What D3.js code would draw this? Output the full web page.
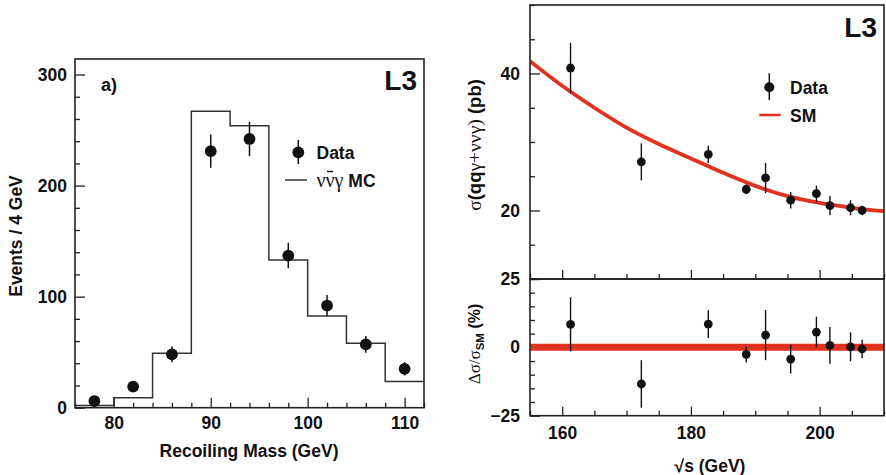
<!DOCTYPE html>
<html><head><meta charset="utf-8">
<script src="https://cdn.jsdelivr.net/npm/d3@7"></script>
<style>
body{margin:0;background:#fff}
svg{display:block}
text{font-family:"Liberation Sans",Arial,Helvetica,sans-serif;fill:#111}
</style>
</head><body>
<svg id="c" width="886" height="475"></svg>
<script>
// Panel a): recoiling-mass distribution
const massBinEdges = [76, 80, 84, 88, 92, 96, 100, 104, 108, 112];
const mcEvents = [2, 9, 49, 267, 254, 133, 82.5, 58, 23.5];
const massPoints = [78, 82, 86, 90, 94, 98, 102, 106, 110];
const dataEvents = [6, 19, 48, 231, 242, 137, 92, 57, 35];
const dataEventErr = [2.5, 4.4, 7, 15, 15.5, 11.5, 9.5, 7.5, 6];
const massTicks = [80, 90, 100, 110];
const eventTicks = [0, 100, 200, 300];

// Panel b): cross section versus centre-of-mass energy
const sqrtS = [161.3, 172.3, 182.7, 188.6, 191.6, 195.5, 199.5, 201.6, 204.8, 206.6];
const sigma = [40.8, 27.1, 28.2, 23.1, 24.75, 21.5, 22.45, 20.7, 20.4, 20.0];
const sigmaErr = [3.7, 2.7, 1.25, 0.7, 2.2, 1.2, 1.2, 1.4, 1.1, 0.7];
const smSqrtS = [155, 160, 165, 170, 175, 180, 185, 190, 195, 200, 205, 210];
const smSigma = [41.8, 38.2, 35.0, 32.1, 29.7, 27.6, 25.5, 23.6, 22.1, 21.1, 20.4, 19.9];
const deviation = [8.4, -13.4, 8.5, -2.6, 4.5, -4.3, 5.6, 0.7, 0.2, -0.6];
const deviationErr = [9.9, 8.7, 5.1, 2.9, 9.2, 5.3, 5.6, 6.7, 5.3, 3.4];
const energyTicks = [160, 180, 200];
const sigmaTicks = [20, 40];
const deviationTicks = [-25, 0, 25];

const RED = "#e1311f";
const INK = "#111";
const FRAME = "#222";
const SANS = '"Liberation Sans",Arial,Helvetica,sans-serif';
const SERIF = '"Liberation Serif","Times New Roman",serif';

const svg = d3.select("#c");

// draws major + minor inward ticks with labels on the majors
function axisWithMinor(parent, axisFn, scale, major, minor, opts) {
  const g = parent.append("g").attr("transform", opts.transform);
  const minorVals = minor.filter(v => !major.includes(v));
  g.append("g")
    .call(axisFn(scale).tickValues(minorVals).tickSize(-opts.minorLen).tickFormat(""))
    .call(s => s.select(".domain").remove());
  const maj = g.append("g")
    .call(axisFn(scale).tickValues(major).tickSize(-opts.majorLen).tickPadding(opts.pad)
      .tickFormat(opts.format || d3.format("d")))
    .call(s => s.select(".domain").remove());
  if (opts.noLabels) maj.selectAll("text").remove();
  g.selectAll("g").attr("font-family", SANS).attr("font-size", opts.fontSize || 17.5)
    .attr("font-weight", "bold");
  g.selectAll("line").attr("stroke", FRAME).attr("stroke-width", 1.3);
  g.selectAll("text").attr("fill", INK);
  return g;
}

/* ---------------- Panel a ---------------- */
const A = { left: 75, right: 424, top: 59, bottom: 407.7 };
const xA = d3.scaleLinear().domain([76, 112]).range([A.left, A.right]);
const yA = d3.scaleLinear().domain([0, 314]).range([A.bottom, A.top]);

axisWithMinor(svg, d3.axisLeft, yA, eventTicks, d3.range(0, 314, 20),
  { transform: `translate(${A.left},0)`, majorLen: 10, minorLen: 5, pad: 8 });
axisWithMinor(svg, d3.axisBottom, xA, massTicks, d3.range(76, 113, 2),
  { transform: `translate(0,${A.bottom})`, majorLen: 10, minorLen: 5, pad: 9 });

// Monte Carlo histogram as a step line
const mcSteps = massBinEdges.map((e, i) => [e, i < mcEvents.length ? mcEvents[i] : mcEvents[mcEvents.length - 1]]);
svg.append("path")
  .attr("d", d3.line().x(d => xA(d[0])).y(d => yA(d[1])).curve(d3.curveStepAfter)(mcSteps))
  .attr("fill", "none").attr("stroke", "#333").attr("stroke-width", 1.5);

// data points with error bars
const gA = svg.append("g");
massPoints.forEach((m, i) => {
  gA.append("line").attr("x1", xA(m)).attr("x2", xA(m))
    .attr("y1", yA(dataEvents[i] - dataEventErr[i])).attr("y2", yA(dataEvents[i] + dataEventErr[i]))
    .attr("stroke", INK).attr("stroke-width", 1.5);
  gA.append("circle").attr("cx", xA(m)).attr("cy", yA(dataEvents[i])).attr("r", 5.9).attr("fill", INK);
});

svg.append("rect").attr("x", A.left).attr("y", A.top).attr("width", A.right - A.left)
  .attr("height", A.bottom - A.top).attr("fill", "none").attr("stroke", FRAME).attr("stroke-width", 1.6);

svg.append("text").attr("x", 101).attr("y", 91).attr("font-size", 18).attr("font-weight", "bold").text("a)");
svg.append("text").attr("x", 417).attr("y", 89.5).attr("text-anchor", "end")
  .attr("font-size", 28).attr("font-weight", "bold").text("L3");

// legend
svg.append("line").attr("x1", 298.3).attr("x2", 298.3).attr("y1", 140).attr("y2", 164)
  .attr("stroke", INK).attr("stroke-width", 1.5);
svg.append("circle").attr("cx", 298.3).attr("cy", 152.3).attr("r", 5.9).attr("fill", INK);
svg.append("text").attr("x", 316.5).attr("y", 159.3).attr("font-size", 17.5).attr("font-weight", "bold").text("Data");
svg.append("line").attr("x1", 285).attr("x2", 307).attr("y1", 180).attr("y2", 180)
  .attr("stroke", "#333").attr("stroke-width", 1.5);
const mcLabel = svg.append("text").attr("x", 316.5).attr("y", 187);
mcLabel.append("tspan").attr("font-family", SERIF).attr("font-size", 20).text("ννγ");
mcLabel.append("tspan").attr("font-size", 17.5).attr("font-weight", "bold").text(" MC");
{
  const ext = mcLabel.node().getExtentOfChar(1);
  svg.append("line").attr("x1", ext.x + 1.5).attr("x2", ext.x + ext.width - 1.5)
    .attr("y1", 171.5).attr("y2", 171.5).attr("stroke", INK).attr("stroke-width", 1.4);
}

svg.append("text").attr("transform", "translate(21.5,236) rotate(-90)").attr("text-anchor", "middle")
  .attr("font-size", 17.5).attr("font-weight", "bold").text("Events / 4 GeV");
svg.append("text").attr("x", 249).attr("y", 456.5).attr("text-anchor", "middle")
  .attr("font-size", 17.5).attr("font-weight", "bold").text("Recoiling Mass (GeV)");

/* ---------------- Panel b ---------------- */
const B = { left: 530, right: 884, top: 5, mid: 279, bottom: 415.7 };
const xB = d3.scaleLinear().domain([155, 210]).range([B.left, B.right]);
const yTop = d3.scaleLinear().domain([10, 50]).range([B.mid, B.top]);
const yBot = d3.scaleLinear().domain([-25, 25]).range([B.bottom, B.mid]);
const minorE = d3.range(155, 211, 5);

axisWithMinor(svg, d3.axisLeft, yTop, sigmaTicks, d3.range(10, 51, 5),
  { transform: `translate(${B.left},0)`, majorLen: 10, minorLen: 5, pad: 10 });
axisWithMinor(svg, d3.axisLeft, yBot, deviationTicks, d3.range(-25, 26, 5),
  { transform: `translate(${B.left},0)`, majorLen: 10, minorLen: 5, pad: 10 });
axisWithMinor(svg, d3.axisBottom, xB, energyTicks, minorE,
  { transform: `translate(0,${B.mid})`, majorLen: 9, minorLen: 5, pad: 10, noLabels: true });
axisWithMinor(svg, d3.axisBottom, xB, energyTicks, minorE,
  { transform: `translate(0,${B.bottom})`, majorLen: 9, minorLen: 5, pad: 11 });

svg.append("clipPath").attr("id", "clipTop").append("rect")
  .attr("x", B.left).attr("y", B.top).attr("width", B.right - B.left).attr("height", B.mid - B.top);
svg.append("clipPath").attr("id", "clipBot").append("rect")
  .attr("x", B.left).attr("y", B.mid).attr("width", B.right - B.left).attr("height", B.bottom - B.mid);

// Standard Model expectation
svg.append("path").attr("clip-path", "url(#clipTop)")
  .attr("d", d3.line().x((d, i) => xB(smSqrtS[i])).y(d => yTop(d)).curve(d3.curveMonotoneX)(smSigma))
  .attr("fill", "none").attr("stroke", RED).attr("stroke-width", 3.8);
svg.append("line").attr("clip-path", "url(#clipBot)")
  .attr("x1", B.left).attr("x2", B.right).attr("y1", yBot(0)).attr("y2", yBot(0))
  .attr("stroke", RED).attr("stroke-width", 7);

function points(g, ys, vals, errs) {
  sqrtS.forEach((e, i) => {
    g.append("line").attr("x1", xB(e)).attr("x2", xB(e))
      .attr("y1", ys(vals[i] - errs[i])).attr("y2", ys(vals[i] + errs[i]))
      .attr("stroke", INK).attr("stroke-width", 1.4);
    g.append("circle").attr("cx", xB(e)).attr("cy", ys(vals[i])).attr("r", 4.4).attr("fill", INK);
  });
}
points(svg.append("g"), yTop, sigma, sigmaErr);
points(svg.append("g"), yBot, deviation, deviationErr);

[[B.top, B.mid], [B.mid, B.bottom]].forEach(([t, b]) => {
  svg.append("rect").attr("x", B.left).attr("y", t).attr("width", B.right - B.left)
    .attr("height", b - t).attr("fill", "none").attr("stroke", FRAME).attr("stroke-width", 1.6);
});

svg.append("text").attr("x", 877).attr("y", 37).attr("text-anchor", "end")
  .attr("font-size", 28).attr("font-weight", "bold").text("L3");

// legend
svg.append("line").attr("x1", 769.3).attr("x2", 769.3).attr("y1", 73.3).attr("y2", 100)
  .attr("stroke", INK).attr("stroke-width", 1.5);
svg.append("circle").attr("cx", 769.3).attr("cy", 87.3).attr("r", 5).attr("fill", INK);
svg.append("text").attr("x", 790).attr("y", 94).attr("font-size", 17.5).attr("font-weight", "bold").text("Data");
svg.append("line").attr("x1", 759.3).attr("x2", 780.7).attr("y1", 115).attr("y2", 115)
  .attr("stroke", RED).attr("stroke-width", 2.5);
svg.append("text").attr("x", 790).attr("y", 121.5).attr("font-size", 17.5).attr("font-weight", "bold").text("SM");

// axis titles
const ySig = svg.append("text").attr("transform", "translate(481,145) rotate(-90)")
  .attr("text-anchor", "middle").attr("font-size", 18.5);
ySig.append("tspan").attr("font-family", SERIF).attr("font-size", 19.5).text("σ");
ySig.append("tspan").attr("font-weight", "bold").text("(qq");
ySig.append("tspan").attr("font-family", SERIF).attr("font-size", 19.5).text("γ+ννγ)");
ySig.append("tspan").attr("font-weight", "bold").text(" (pb)");

const yDev = svg.append("text").attr("transform", "translate(480,344) rotate(-90)")
  .attr("text-anchor", "middle").attr("font-size", 16);
yDev.append("tspan").attr("font-family", SERIF).attr("font-size", 17).text("Δσ/σ");
yDev.append("tspan").attr("font-weight", "bold").attr("font-size", 11.5).attr("dy", 4).text("SM");
yDev.append("tspan").attr("font-weight", "bold").attr("dy", -4).text(" (%)");

svg.append("text").attr("x", 710).attr("y", 472).attr("text-anchor", "middle")
  .attr("font-size", 17.5).attr("font-weight", "bold").text("√s (GeV)");
</script>
</body></html>
